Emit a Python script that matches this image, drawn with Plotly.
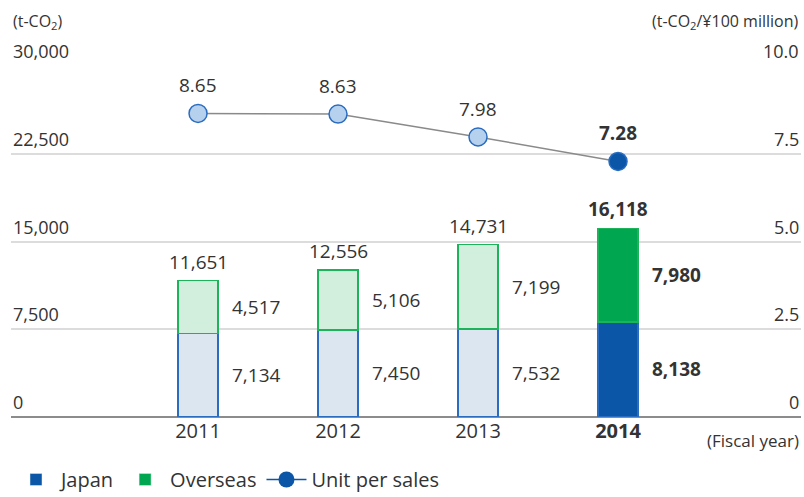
import plotly.graph_objects as go

years = ["2011", "2012", "2013", "2014"]
japan = [7134, 7450, 7532, 8138]
overseas = [4517, 5106, 7199, 7980]
totals = [11651, 12556, 14731, 16118]
unit_per_sales = [8.65, 8.63, 7.98, 7.28]
unit_labels = ["8.65", "8.63", "7.98", "7.28"]
left_ticks = [0, 7500, 15000, 22500, 30000]
left_ticktext = ["0", "7,500", "15,000", "22,500", "30,000"]
right_ticks = [0, 2.5, 5.0, 7.5, 10.0]
right_ticktext = ["0", "2.5", "5.0", "7.5", "10.0"]

FONT = "Open Sans"
TXT = "#333333"
BLUE = "#0b56a6"
GREEN = "#00a650"
LIGHT_BLUE = "#dbe6f1"
LIGHT_GREEN = "#d2eedc"
MARK_LIGHT = "#b6d1ee"

x = list(range(len(years)))
last = len(years) - 1
bar_w = 0.286

jp_fill = [LIGHT_BLUE] * last + [BLUE]
ov_fill = [LIGHT_GREEN] * last + [GREEN]
mk_fill = [MARK_LIGHT] * last + [BLUE]

fig = go.Figure()
fig.add_trace(go.Bar(
    x=x, y=japan, width=bar_w, showlegend=False,
    marker=dict(color=jp_fill, line=dict(color="#2a6cc0", width=1.5)),
    hoverinfo="skip"
))
fig.add_trace(go.Bar(
    x=x, y=overseas, width=bar_w, showlegend=False,
    marker=dict(color=ov_fill, line=dict(color="#1db35a", width=1.5)),
    hoverinfo="skip"
))
fig.add_trace(go.Scatter(
    x=x, y=unit_per_sales, yaxis="y2", mode="lines+markers", showlegend=False,
    line=dict(color="#8a8a8a", width=1.5),
    marker=dict(size=18, color=mk_fill, line=dict(color="#2a6cc0", width=1.5)),
    hoverinfo="skip"
))

# legend entries
fig.add_trace(go.Bar(x=[None], y=[None], name="Japan", marker_color=BLUE))
fig.add_trace(go.Bar(x=[None], y=[None], name="Overseas", marker_color=GREEN))
fig.add_trace(go.Scatter(x=[None], y=[None], name="Unit per sales", mode="lines+markers",
                         line=dict(color=BLUE, width=1.5), marker=dict(size=16, color=BLUE)))

def fmt(v, bold):
    s = f"{v:,}"
    return f"<b>{s}</b>" if bold else s

ann = []
for i in x:
    b = i == last
    ann.append(dict(x=i, y=totals[i], text=fmt(totals[i], b), showarrow=False,
                    yanchor="bottom", yshift=4, font=dict(size=19)))
    ann.append(dict(x=i + bar_w / 2, y=japan[i] / 2, text=fmt(japan[i], b), showarrow=False,
                    xanchor="left", xshift=12, font=dict(size=19)))
    ann.append(dict(x=i + bar_w / 2, y=japan[i] + overseas[i] / 2, text=fmt(overseas[i], b),
                    showarrow=False, xanchor="left", xshift=12, font=dict(size=19)))
    lab = f"<b>{unit_labels[i]}</b>" if b else unit_labels[i]
    ann.append(dict(x=i, y=unit_per_sales[i], yref="y2", text=lab, showarrow=False,
                    yanchor="bottom", yshift=13, font=dict(size=19)))

# axis tick labels sit above their gridlines
for v, t in zip(left_ticks, left_ticktext):
    ann.append(dict(x=0, xref="paper", xanchor="left", y=v, yref="y", yanchor="bottom",
                    yshift=1, text=t, showarrow=False, font=dict(size=18)))
for v, t in zip(right_ticks, right_ticktext):
    ann.append(dict(x=1, xref="paper", xanchor="right", y=v, yref="y2", yanchor="bottom",
                    yshift=1, text=t, showarrow=False, font=dict(size=18)))

ann.append(dict(x=0, xref="paper", xanchor="left", y=1, yref="paper", yanchor="bottom",
                yshift=31, text="(t-CO<sub>2</sub>)", showarrow=False, font=dict(size=16)))
ann.append(dict(x=1, xref="paper", xanchor="right", y=1, yref="paper", yanchor="bottom",
                yshift=31, text="(t-CO<sub>2</sub>/¥100 million)", showarrow=False, font=dict(size=16)))
ann.append(dict(x=1, xref="paper", xanchor="right", y=0, yref="paper", yanchor="top",
                yshift=-10, text="(Fiscal year)", showarrow=False, font=dict(size=17)))

fig.update_layout(
    width=804, height=497,
    margin=dict(l=11, r=3, t=66, b=80, autoexpand=False),
    barmode="stack",
    plot_bgcolor="white",
    paper_bgcolor="white",
    font=dict(family=FONT, size=18, color=TXT),
    annotations=ann,
    legend=dict(orientation="h", x=0, xanchor="left", y=-0.178, yanchor="middle",
                font=dict(size=20), itemwidth=40, traceorder="normal"),
    xaxis=dict(
        range=[-1.336, 4.307], tickvals=x,
        ticktext=[f"<b>{y}</b>" if i == last else y for i, y in enumerate(years)],
        showgrid=False, ticks="", tickfont=dict(size=20), zeroline=False,
    ),
    yaxis=dict(
        range=[0, 30000], tickvals=left_ticks, showticklabels=False,
        showgrid=True, gridcolor="#dcdcdc", gridwidth=1.5,
        zeroline=True, zerolinecolor="#8c8c8c", zerolinewidth=2,
    ),
    yaxis2=dict(
        range=[0, 10], overlaying="y", side="right", showticklabels=False,
        showgrid=False, zeroline=False,
    ),
)

fig.write_html(
    "out.html",
    config={"displayModeBar": False},
    post_script="document.body.style.margin='0';document.body.style.overflow='hidden';",
)
